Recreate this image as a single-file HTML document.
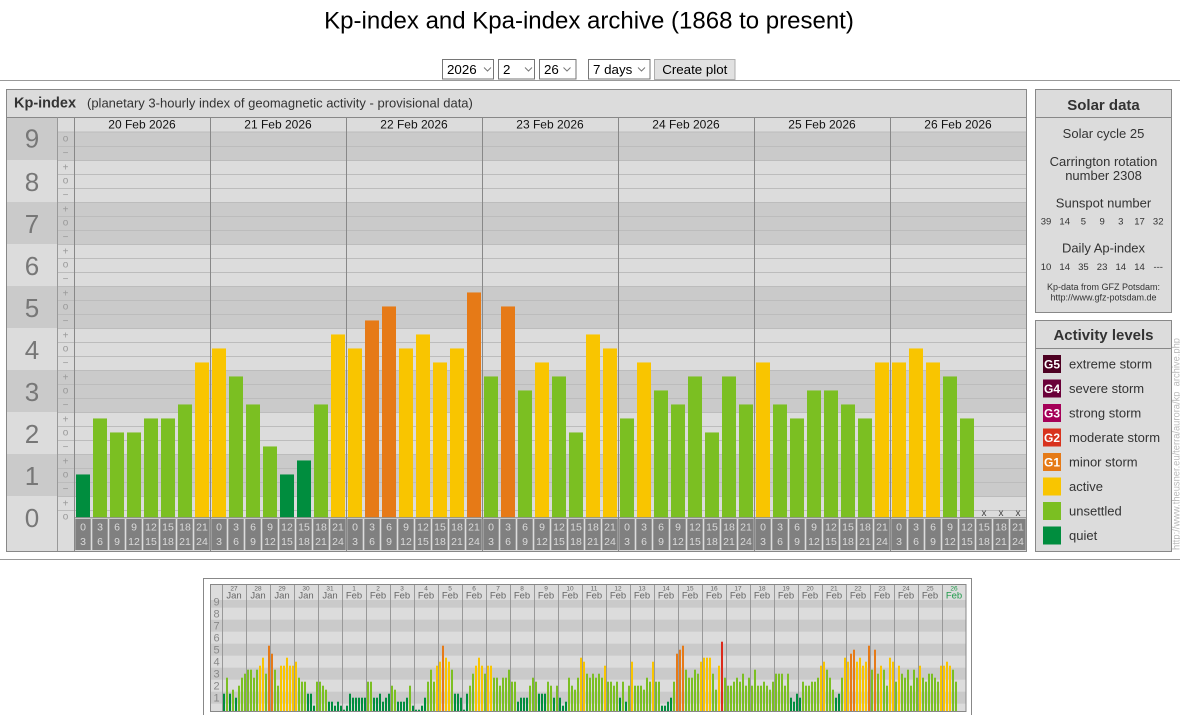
<!DOCTYPE html>
<html><head><meta charset="utf-8"><style>
html,body{margin:0;padding:0;background:#fff;}
svg{display:block;font-family:"Liberation Sans",Arial,sans-serif;}
.q{fill:#008d3e}.u{fill:#7bbf22}.a{fill:#f9c500}.g1{fill:#e67a17}.g2{fill:#dc2a1b}
</style></head><body>
<svg width="1180" height="715" viewBox="0 0 1180 715">
<rect width="1180" height="715" fill="#fff"/>
<!-- title -->
<text x="589" y="28.5" font-size="24" text-anchor="middle" fill="#000">Kp-index and Kpa-index archive (1868 to present)</text>
<!-- controls -->
<g font-size="13.33" fill="#000">
<rect x="442.5" y="59.5" width="51" height="19.5" fill="#fff" stroke="#767676"/>
<text x="447" y="74">2026</text>
<rect x="498.5" y="59.5" width="36" height="19.5" fill="#fff" stroke="#767676"/>
<text x="503" y="74">2</text>
<rect x="539.5" y="59.5" width="36.5" height="19.5" fill="#fff" stroke="#767676"/>
<text x="544" y="74">26</text>
<rect x="588.5" y="59.5" width="61.5" height="19.5" fill="#fff" stroke="#767676"/>
<text x="593" y="74">7 days</text>
<rect x="654.5" y="59.5" width="80.5" height="20" fill="#e1e1e1" stroke="#adadad"/>
<text x="694.8" y="74" text-anchor="middle">Create plot</text>
</g>
<path d="M484 67.5l3.5 3.5 3.5-3.5M525 67.5l3.5 3.5 3.5-3.5M563.5 67.5l3.5 3.5 3.5-3.5M638 67.5l3.5 3.5 3.5-3.5" stroke="#777" fill="none"/>
<line x1="0" y1="80.5" x2="1180" y2="80.5" stroke="#999"/>

<!-- main panel -->
<rect x="6.5" y="89.5" width="1020" height="462" fill="#dcdcdc"/>
<g fill="#cacaca">
<rect x="7" y="117.5" width="50.5" height="42.5"/>
<rect x="57.5" y="132" width="969" height="28"/>
<rect x="7" y="202" width="1019.5" height="42"/>
<rect x="7" y="286" width="1019.5" height="42"/>
<rect x="7" y="370" width="1019.5" height="42"/>
<rect x="7" y="454" width="1019.5" height="42"/>
</g>
<path stroke="#bcbcbc" fill="none" d="M57.5 510.5H1026M57.5 496.5H1026M57.5 482.5H1026M57.5 468.5H1026M57.5 454.5H1026M57.5 440.5H1026M57.5 426.5H1026M57.5 412.5H1026M57.5 398.5H1026M57.5 384.5H1026M57.5 370.5H1026M57.5 356.5H1026M57.5 342.5H1026M57.5 328.5H1026M57.5 314.5H1026M57.5 300.5H1026M57.5 286.5H1026M57.5 272.5H1026M57.5 258.5H1026M57.5 244.5H1026M57.5 230.5H1026M57.5 216.5H1026M57.5 202.5H1026M57.5 188.5H1026M57.5 174.5H1026M57.5 160.5H1026M57.5 146.5H1026M57.5 132H1026"/>
<!-- header -->
<line x1="6" y1="117.5" x2="1027" y2="117.5" stroke="#888"/>
<text x="14" y="107.5" font-size="14.5" font-weight="bold" fill="#333">Kp-index</text>
<text x="87" y="107.5" font-size="13" fill="#333">(planetary 3-hourly index of geomagnetic activity - provisional data)</text>
<!-- date labels -->
<g font-size="12" fill="#111" text-anchor="middle">
<text x="142" y="128.5">20 Feb 2026</text><text x="278" y="128.5">21 Feb 2026</text><text x="414" y="128.5">22 Feb 2026</text><text x="550" y="128.5">23 Feb 2026</text><text x="686" y="128.5">24 Feb 2026</text><text x="822" y="128.5">25 Feb 2026</text><text x="958" y="128.5">26 Feb 2026</text>
</g>
<!-- big numbers -->
<g font-size="26" fill="#777" text-anchor="middle">
<text x="32" y="527">0</text><text x="32" y="485">1</text><text x="32" y="443">2</text><text x="32" y="401">3</text><text x="32" y="359">4</text><text x="32" y="317">5</text><text x="32" y="275">6</text><text x="32" y="233">7</text><text x="32" y="191">8</text><text x="32" y="147.5">9</text>
</g>
<!-- marks -->
<g font-size="10" fill="#999" text-anchor="middle">
<text x="65.5" y="519.5">o</text><text x="65.5" y="506.5">+</text><text x="65.5" y="492">−</text>
<text x="65.5" y="477.5">o</text><text x="65.5" y="464.5">+</text><text x="65.5" y="450">−</text>
<text x="65.5" y="435.5">o</text><text x="65.5" y="422.5">+</text><text x="65.5" y="408">−</text>
<text x="65.5" y="393.5">o</text><text x="65.5" y="380.5">+</text><text x="65.5" y="366">−</text>
<text x="65.5" y="351.5">o</text><text x="65.5" y="338.5">+</text><text x="65.5" y="324">−</text>
<text x="65.5" y="309.5">o</text><text x="65.5" y="296.5">+</text><text x="65.5" y="282">−</text>
<text x="65.5" y="267.5">o</text><text x="65.5" y="254.5">+</text><text x="65.5" y="240">−</text>
<text x="65.5" y="225.5">o</text><text x="65.5" y="212.5">+</text><text x="65.5" y="198">−</text>
<text x="65.5" y="183.5">o</text><text x="65.5" y="170.5">+</text><text x="65.5" y="156">−</text>
<text x="65.5" y="141.5">o</text>
</g>
<!-- bars -->
<g transform="translate(76,517.3) scale(1,-14)">
<rect x="0" width="14" height="3.06" class="q"/><rect x="17" width="14" height="7.06" class="u"/><rect x="34" width="14" height="6.06" class="u"/><rect x="51" width="14" height="6.06" class="u"/><rect x="68" width="14" height="7.06" class="u"/><rect x="85" width="14" height="7.06" class="u"/><rect x="102" width="14" height="8.06" class="u"/><rect x="119" width="14" height="11.06" class="a"/>
<rect x="136" width="14" height="12.06" class="a"/><rect x="153" width="14" height="10.06" class="u"/><rect x="170" width="14" height="8.06" class="u"/><rect x="187" width="14" height="5.06" class="u"/><rect x="204" width="14" height="3.06" class="q"/><rect x="221" width="14" height="4.06" class="q"/><rect x="238" width="14" height="8.06" class="u"/><rect x="255" width="14" height="13.06" class="a"/>
<rect x="272" width="14" height="12.06" class="a"/><rect x="289" width="14" height="14.06" class="g1"/><rect x="306" width="14" height="15.06" class="g1"/><rect x="323" width="14" height="12.06" class="a"/><rect x="340" width="14" height="13.06" class="a"/><rect x="357" width="14" height="11.06" class="a"/><rect x="374" width="14" height="12.06" class="a"/><rect x="391" width="14" height="16.06" class="g1"/>
<rect x="408" width="14" height="10.06" class="u"/><rect x="425" width="14" height="15.06" class="g1"/><rect x="442" width="14" height="9.06" class="u"/><rect x="459" width="14" height="11.06" class="a"/><rect x="476" width="14" height="10.06" class="u"/><rect x="493" width="14" height="6.06" class="u"/><rect x="510" width="14" height="13.06" class="a"/><rect x="527" width="14" height="12.06" class="a"/>
<rect x="544" width="14" height="7.06" class="u"/><rect x="561" width="14" height="11.06" class="a"/><rect x="578" width="14" height="9.06" class="u"/><rect x="595" width="14" height="8.06" class="u"/><rect x="612" width="14" height="10.06" class="u"/><rect x="629" width="14" height="6.06" class="u"/><rect x="646" width="14" height="10.06" class="u"/><rect x="663" width="14" height="8.06" class="u"/>
<rect x="680" width="14" height="11.06" class="a"/><rect x="697" width="14" height="8.06" class="u"/><rect x="714" width="14" height="7.06" class="u"/><rect x="731" width="14" height="9.06" class="u"/><rect x="748" width="14" height="9.06" class="u"/><rect x="765" width="14" height="8.06" class="u"/><rect x="782" width="14" height="7.06" class="u"/><rect x="799" width="14" height="11.06" class="a"/>
<rect x="816" width="14" height="11.06" class="a"/><rect x="833" width="14" height="12.06" class="a"/><rect x="850" width="14" height="11.06" class="a"/><rect x="867" width="14" height="10.06" class="u"/><rect x="884" width="14" height="7.06" class="u"/>
</g>
<g font-size="10" fill="#444" text-anchor="middle"><text x="984" y="516">x</text><text x="1001" y="516">x</text><text x="1018" y="516">x</text></g>
<!-- x label strip -->
<rect x="74.5" y="517.8" width="951.5" height="33" fill="#dcdcdc"/>
<defs><pattern id="xb" x="74" y="0" width="17" height="715" patternUnits="userSpaceOnUse"><rect x="1.3" y="519" width="15.4" height="31" fill="#808080"/></pattern></defs>
<rect x="74" y="519" width="952" height="31" fill="url(#xb)"/>
<line x1="74" y1="517.8" x2="1026" y2="517.8" stroke="#888"/>
<g font-size="10.5" fill="#dadada" text-anchor="middle">
<text y="530.5"><tspan x="83">0</tspan><tspan x="100">3</tspan><tspan x="117">6</tspan><tspan x="134">9</tspan><tspan x="151">12</tspan><tspan x="168">15</tspan><tspan x="185">18</tspan><tspan x="202">21</tspan><tspan x="219">0</tspan><tspan x="236">3</tspan><tspan x="253">6</tspan><tspan x="270">9</tspan><tspan x="287">12</tspan><tspan x="304">15</tspan><tspan x="321">18</tspan><tspan x="338">21</tspan><tspan x="355">0</tspan><tspan x="372">3</tspan><tspan x="389">6</tspan><tspan x="406">9</tspan><tspan x="423">12</tspan><tspan x="440">15</tspan><tspan x="457">18</tspan><tspan x="474">21</tspan><tspan x="491">0</tspan><tspan x="508">3</tspan><tspan x="525">6</tspan><tspan x="542">9</tspan><tspan x="559">12</tspan><tspan x="576">15</tspan><tspan x="593">18</tspan><tspan x="610">21</tspan><tspan x="627">0</tspan><tspan x="644">3</tspan><tspan x="661">6</tspan><tspan x="678">9</tspan><tspan x="695">12</tspan><tspan x="712">15</tspan><tspan x="729">18</tspan><tspan x="746">21</tspan><tspan x="763">0</tspan><tspan x="780">3</tspan><tspan x="797">6</tspan><tspan x="814">9</tspan><tspan x="831">12</tspan><tspan x="848">15</tspan><tspan x="865">18</tspan><tspan x="882">21</tspan><tspan x="899">0</tspan><tspan x="916">3</tspan><tspan x="933">6</tspan><tspan x="950">9</tspan><tspan x="967">12</tspan><tspan x="984">15</tspan><tspan x="1001">18</tspan><tspan x="1018">21</tspan></text>
<text y="545"><tspan x="83">3</tspan><tspan x="100">6</tspan><tspan x="117">9</tspan><tspan x="134">12</tspan><tspan x="151">15</tspan><tspan x="168">18</tspan><tspan x="185">21</tspan><tspan x="202">24</tspan><tspan x="219">3</tspan><tspan x="236">6</tspan><tspan x="253">9</tspan><tspan x="270">12</tspan><tspan x="287">15</tspan><tspan x="304">18</tspan><tspan x="321">21</tspan><tspan x="338">24</tspan><tspan x="355">3</tspan><tspan x="372">6</tspan><tspan x="389">9</tspan><tspan x="406">12</tspan><tspan x="423">15</tspan><tspan x="440">18</tspan><tspan x="457">21</tspan><tspan x="474">24</tspan><tspan x="491">3</tspan><tspan x="508">6</tspan><tspan x="525">9</tspan><tspan x="542">12</tspan><tspan x="559">15</tspan><tspan x="576">18</tspan><tspan x="593">21</tspan><tspan x="610">24</tspan><tspan x="627">3</tspan><tspan x="644">6</tspan><tspan x="661">9</tspan><tspan x="678">12</tspan><tspan x="695">15</tspan><tspan x="712">18</tspan><tspan x="729">21</tspan><tspan x="746">24</tspan><tspan x="763">3</tspan><tspan x="780">6</tspan><tspan x="797">9</tspan><tspan x="814">12</tspan><tspan x="831">15</tspan><tspan x="848">18</tspan><tspan x="865">21</tspan><tspan x="882">24</tspan><tspan x="899">3</tspan><tspan x="916">6</tspan><tspan x="933">9</tspan><tspan x="950">12</tspan><tspan x="967">15</tspan><tspan x="984">18</tspan><tspan x="1001">21</tspan><tspan x="1018">24</tspan></text>
</g>
<!-- vertical lines -->
<path stroke="#999" d="M57.5 117.5V551"/>
<path stroke="#888" d="M74.5 117.5V551M210.5 117.5V551M346.5 117.5V551M482.5 117.5V551M618.5 117.5V551M754.5 117.5V551M890.5 117.5V551"/>
<rect x="6.5" y="89.5" width="1020" height="462" fill="none" stroke="#888"/>

<!-- solar data panel -->
<rect x="1035.5" y="89.5" width="136" height="223" fill="#dcdcdc" stroke="#888"/>
<line x1="1035.5" y1="117.5" x2="1171.5" y2="117.5" stroke="#888"/>
<g fill="#333" text-anchor="middle">
<text x="1103.5" y="110" font-size="15" font-weight="bold">Solar data</text>
<text x="1103.5" y="138" font-size="13">Solar cycle 25</text>
<text x="1103.5" y="166" font-size="13">Carrington rotation</text>
<text x="1103.5" y="180" font-size="13">number 2308</text>
<text x="1103.5" y="207.5" font-size="13">Sunspot number</text>
<text y="224.5" font-size="9.5"><tspan x="1046">39</tspan><tspan x="1064.7">14</tspan><tspan x="1083.4">5</tspan><tspan x="1102.1">9</tspan><tspan x="1120.8">3</tspan><tspan x="1139.5">17</tspan><tspan x="1158.2">32</tspan></text>
<text x="1103.5" y="252.5" font-size="13">Daily Ap-index</text>
<text y="270" font-size="9.5"><tspan x="1046">10</tspan><tspan x="1064.7">14</tspan><tspan x="1083.4">35</tspan><tspan x="1102.1">23</tspan><tspan x="1120.8">14</tspan><tspan x="1139.5">14</tspan><tspan x="1158.2">---</tspan></text>
<text x="1103.5" y="290" font-size="9">Kp-data from GFZ Potsdam:</text>
<text x="1103.5" y="300.5" font-size="9">http://www.gfz-potsdam.de</text>
</g>

<!-- activity levels panel -->
<rect x="1035.5" y="320.5" width="136" height="231" fill="#dcdcdc" stroke="#888"/>
<line x1="1035.5" y1="348.5" x2="1171.5" y2="348.5" stroke="#888"/>
<text x="1103.5" y="340" font-size="15" font-weight="bold" fill="#333" text-anchor="middle">Activity levels</text>
<rect x="1043" y="355" width="18" height="18" fill="#4d0022"/>
<rect x="1043" y="379.5" width="18" height="18" fill="#6a0039"/>
<rect x="1043" y="404" width="18" height="18" fill="#a50058"/>
<rect x="1043" y="428.5" width="18" height="18" fill="#d8321d"/>
<rect x="1043" y="453" width="18" height="18" fill="#e57a17"/>
<rect x="1043" y="477.5" width="18" height="18" fill="#f9c500"/>
<rect x="1043" y="502" width="18" height="18" fill="#7bbf22"/>
<rect x="1043" y="526.5" width="18" height="18" fill="#008d3e"/>
<g font-size="12" font-weight="bold" fill="#fff" text-anchor="middle">
<text x="1052" y="368.5">G5</text><text x="1052" y="393">G4</text><text x="1052" y="417.5">G3</text><text x="1052" y="442">G2</text><text x="1052" y="466.5">G1</text>
</g>
<g font-size="13" fill="#333">
<text x="1069" y="368.5">extreme storm</text><text x="1069" y="393">severe storm</text><text x="1069" y="417.5">strong storm</text><text x="1069" y="442">moderate storm</text><text x="1069" y="466.5">minor storm</text><text x="1069" y="491">active</text><text x="1069" y="515.5">unsettled</text><text x="1069" y="540">quiet</text>
</g>
<text transform="translate(1179.5,550) rotate(-90)" font-size="10" fill="#bbb" textLength="212" lengthAdjust="spacingAndGlyphs">http://www.theusner.eu/terra/aurora/kp_archive.php</text>

<line x1="0" y1="559.5" x2="1180" y2="559.5" stroke="#999"/>

<!-- mini chart -->
<rect x="203.5" y="578.5" width="768" height="145" fill="#fff" stroke="#888"/>
<rect x="210.5" y="584.5" width="755.5" height="127" fill="#dcdcdc"/>
<g fill="#cacaca">
<rect x="210.5" y="600" width="755.5" height="7.7"/>
<rect x="210.5" y="619.7" width="755.5" height="12"/>
<rect x="210.5" y="643.7" width="755.5" height="12"/>
<rect x="210.5" y="667.7" width="755.5" height="12"/>
<rect x="210.5" y="691.7" width="755.5" height="12"/>
</g>
<g font-size="11" fill="#888" text-anchor="middle">
<text x="216.5" y="605.5">9</text><text x="216.5" y="617.5">8</text><text x="216.5" y="629.5">7</text><text x="216.5" y="641.5">6</text><text x="216.5" y="653.5">5</text><text x="216.5" y="665.5">4</text><text x="216.5" y="677.5">3</text><text x="216.5" y="689.5">2</text><text x="216.5" y="701.5">1</text>
</g>
<g text-anchor="middle" fill="#666">
<text y="590.5" font-size="6.5"><tspan x="234">27</tspan><tspan x="258">28</tspan><tspan x="282">29</tspan><tspan x="306">30</tspan><tspan x="330">31</tspan><tspan x="354">1</tspan><tspan x="378">2</tspan><tspan x="402">3</tspan><tspan x="426">4</tspan><tspan x="450">5</tspan><tspan x="474">6</tspan><tspan x="498">7</tspan><tspan x="522">8</tspan><tspan x="546">9</tspan><tspan x="570">10</tspan><tspan x="594">11</tspan><tspan x="618">12</tspan><tspan x="642">13</tspan><tspan x="666">14</tspan><tspan x="690">15</tspan><tspan x="714">16</tspan><tspan x="738">17</tspan><tspan x="762">18</tspan><tspan x="786">19</tspan><tspan x="810">20</tspan><tspan x="834">21</tspan><tspan x="858">22</tspan><tspan x="882">23</tspan><tspan x="906">24</tspan><tspan x="930">25</tspan><tspan x="954" fill="#1f9a4a">26</tspan></text>
<text y="598.5" font-size="9.5"><tspan x="234">Jan</tspan><tspan x="258">Jan</tspan><tspan x="282">Jan</tspan><tspan x="306">Jan</tspan><tspan x="330">Jan</tspan><tspan x="354">Feb</tspan><tspan x="378">Feb</tspan><tspan x="402">Feb</tspan><tspan x="426">Feb</tspan><tspan x="450">Feb</tspan><tspan x="474">Feb</tspan><tspan x="498">Feb</tspan><tspan x="522">Feb</tspan><tspan x="546">Feb</tspan><tspan x="570">Feb</tspan><tspan x="594">Feb</tspan><tspan x="618">Feb</tspan><tspan x="642">Feb</tspan><tspan x="666">Feb</tspan><tspan x="690">Feb</tspan><tspan x="714">Feb</tspan><tspan x="738">Feb</tspan><tspan x="762">Feb</tspan><tspan x="786">Feb</tspan><tspan x="810">Feb</tspan><tspan x="834">Feb</tspan><tspan x="858">Feb</tspan><tspan x="882">Feb</tspan><tspan x="906">Feb</tspan><tspan x="930">Feb</tspan><tspan x="954" fill="#1f9a4a">Feb</tspan></text>
</g>
<g transform="translate(223,711.5) scale(1,-4)">
<g><rect x="0" width="2" height="4.45" class="q"/><rect x="3" width="2" height="8.45" class="u"/><rect x="6" width="2" height="4.45" class="q"/><rect x="9" width="2" height="5.45" class="u"/><rect x="12" width="2" height="3.45" class="q"/><rect x="15" width="2" height="6.45" class="u"/><rect x="18" width="2" height="8.45" class="u"/><rect x="21" width="2" height="9.45" class="u"/></g>
<g transform="translate(24,0)"><rect x="0" width="2" height="10.45" class="u"/><rect x="3" width="2" height="10.45" class="u"/><rect x="6" width="2" height="8.45" class="u"/><rect x="9" width="2" height="10.45" class="u"/><rect x="12" width="2" height="11.45" class="a"/><rect x="15" width="2" height="13.45" class="a"/><rect x="18" width="2" height="9.45" class="u"/><rect x="21" width="2" height="16.45" class="g1"/></g>
<g transform="translate(48,0)"><rect x="0" width="2" height="14.45" class="g1"/><rect x="3" width="2" height="10.45" class="u"/><rect x="6" width="2" height="6.45" class="u"/><rect x="9" width="2" height="11.45" class="a"/><rect x="12" width="2" height="11.45" class="a"/><rect x="15" width="2" height="13.45" class="a"/><rect x="18" width="2" height="11.45" class="a"/><rect x="21" width="2" height="11.45" class="a"/></g>
<g transform="translate(72,0)"><rect x="0" width="2" height="12.45" class="a"/><rect x="3" width="2" height="8.45" class="u"/><rect x="6" width="2" height="7.45" class="u"/><rect x="9" width="2" height="7.45" class="u"/><rect x="12" width="2" height="4.45" class="q"/><rect x="15" width="2" height="4.45" class="q"/><rect x="18" width="2" height="1.45" class="q"/><rect x="21" width="2" height="7.45" class="u"/></g>
<g transform="translate(96,0)"><rect x="0" width="2" height="7.45" class="u"/><rect x="3" width="2" height="6.45" class="u"/><rect x="6" width="2" height="5.45" class="u"/><rect x="9" width="2" height="2.45" class="q"/><rect x="12" width="2" height="2.45" class="q"/><rect x="15" width="2" height="1.45" class="q"/><rect x="18" width="2" height="2.45" class="q"/><rect x="21" width="2" height="1.45" class="q"/></g>
<g transform="translate(120,0)"><rect x="0" width="2" height="0.45" class="q"/><rect x="3" width="2" height="1.45" class="q"/><rect x="6" width="2" height="4.45" class="q"/><rect x="9" width="2" height="3.45" class="q"/><rect x="12" width="2" height="3.45" class="q"/><rect x="15" width="2" height="3.45" class="q"/><rect x="18" width="2" height="3.45" class="q"/><rect x="21" width="2" height="3.45" class="q"/></g>
<g transform="translate(144,0)"><rect x="0" width="2" height="7.45" class="u"/><rect x="3" width="2" height="7.45" class="u"/><rect x="6" width="2" height="3.45" class="q"/><rect x="9" width="2" height="3.45" class="q"/><rect x="12" width="2" height="4.45" class="q"/><rect x="15" width="2" height="2.45" class="q"/><rect x="18" width="2" height="3.45" class="q"/><rect x="21" width="2" height="4.45" class="q"/></g>
<g transform="translate(168,0)"><rect x="0" width="2" height="6.45" class="u"/><rect x="3" width="2" height="5.45" class="u"/><rect x="6" width="2" height="2.45" class="q"/><rect x="9" width="2" height="2.45" class="q"/><rect x="12" width="2" height="2.45" class="q"/><rect x="15" width="2" height="3.45" class="q"/><rect x="18" width="2" height="6.45" class="u"/><rect x="21" width="2" height="1.45" class="q"/></g>
<g transform="translate(192,0)"><rect x="0" width="2" height="0.45" class="q"/><rect x="3" width="2" height="0.45" class="q"/><rect x="6" width="2" height="1.45" class="q"/><rect x="9" width="2" height="3.45" class="q"/><rect x="12" width="2" height="7.45" class="u"/><rect x="15" width="2" height="10.45" class="u"/><rect x="18" width="2" height="7.45" class="u"/><rect x="21" width="2" height="11.45" class="a"/></g>
<g transform="translate(216,0)"><rect x="0" width="2" height="12.45" class="a"/><rect x="3" width="2" height="16.45" class="g1"/><rect x="6" width="2" height="13.45" class="a"/><rect x="9" width="2" height="12.45" class="a"/><rect x="12" width="2" height="10.45" class="u"/><rect x="15" width="2" height="4.45" class="q"/><rect x="18" width="2" height="4.45" class="q"/><rect x="21" width="2" height="3.45" class="q"/></g>
<g transform="translate(240,0)"><rect x="0" width="2" height="0.45" class="q"/><rect x="3" width="2" height="4.45" class="q"/><rect x="6" width="2" height="6.45" class="u"/><rect x="9" width="2" height="9.45" class="u"/><rect x="12" width="2" height="11.45" class="a"/><rect x="15" width="2" height="13.45" class="a"/><rect x="18" width="2" height="11.45" class="a"/><rect x="21" width="2" height="9.45" class="u"/></g>
<g transform="translate(264,0)"><rect x="0" width="2" height="11.45" class="a"/><rect x="3" width="2" height="11.45" class="a"/><rect x="6" width="2" height="8.45" class="u"/><rect x="9" width="2" height="8.45" class="u"/><rect x="12" width="2" height="6.45" class="u"/><rect x="15" width="2" height="8.45" class="u"/><rect x="18" width="2" height="8.45" class="u"/><rect x="21" width="2" height="10.45" class="u"/></g>
<g transform="translate(288,0)"><rect x="0" width="2" height="7.45" class="u"/><rect x="3" width="2" height="7.45" class="u"/><rect x="6" width="2" height="2.45" class="q"/><rect x="9" width="2" height="3.45" class="q"/><rect x="12" width="2" height="3.45" class="q"/><rect x="15" width="2" height="3.45" class="q"/><rect x="18" width="2" height="6.45" class="u"/><rect x="21" width="2" height="8.45" class="u"/></g>
<g transform="translate(312,0)"><rect x="0" width="2" height="7.45" class="u"/><rect x="3" width="2" height="4.45" class="q"/><rect x="6" width="2" height="4.45" class="q"/><rect x="9" width="2" height="4.45" class="q"/><rect x="12" width="2" height="7.45" class="u"/><rect x="15" width="2" height="6.45" class="u"/><rect x="18" width="2" height="3.45" class="q"/><rect x="21" width="2" height="6.45" class="u"/></g>
<g transform="translate(336,0)"><rect x="0" width="2" height="3.45" class="q"/><rect x="3" width="2" height="1.45" class="q"/><rect x="6" width="2" height="2.45" class="q"/><rect x="9" width="2" height="8.45" class="u"/><rect x="12" width="2" height="6.45" class="u"/><rect x="15" width="2" height="5.45" class="u"/><rect x="18" width="2" height="8.45" class="u"/><rect x="21" width="2" height="13.45" class="a"/></g>
<g transform="translate(360,0)"><rect x="0" width="2" height="12.45" class="a"/><rect x="3" width="2" height="9.45" class="u"/><rect x="6" width="2" height="8.45" class="u"/><rect x="9" width="2" height="9.45" class="u"/><rect x="12" width="2" height="8.45" class="u"/><rect x="15" width="2" height="9.45" class="u"/><rect x="18" width="2" height="8.45" class="u"/><rect x="21" width="2" height="11.45" class="a"/></g>
<g transform="translate(384,0)"><rect x="0" width="2" height="7.45" class="u"/><rect x="3" width="2" height="7.45" class="u"/><rect x="6" width="2" height="6.45" class="u"/><rect x="9" width="2" height="7.45" class="u"/><rect x="12" width="2" height="3.45" class="q"/><rect x="15" width="2" height="7.45" class="u"/><rect x="18" width="2" height="2.45" class="q"/><rect x="21" width="2" height="6.45" class="u"/></g>
<g transform="translate(408,0)"><rect x="0" width="2" height="12.45" class="a"/><rect x="3" width="2" height="6.45" class="u"/><rect x="6" width="2" height="6.45" class="u"/><rect x="9" width="2" height="6.45" class="u"/><rect x="12" width="2" height="5.45" class="u"/><rect x="15" width="2" height="8.45" class="u"/><rect x="18" width="2" height="7.45" class="u"/><rect x="21" width="2" height="12.45" class="a"/></g>
<g transform="translate(432,0)"><rect x="0" width="2" height="7.45" class="u"/><rect x="3" width="2" height="7.45" class="u"/><rect x="6" width="2" height="1.45" class="q"/><rect x="9" width="2" height="1.45" class="q"/><rect x="12" width="2" height="2.45" class="q"/><rect x="15" width="2" height="3.45" class="q"/><rect x="18" width="2" height="7.45" class="u"/><rect x="21" width="2" height="14.45" class="g1"/></g>
<g transform="translate(456,0)"><rect x="0" width="2" height="15.45" class="g1"/><rect x="3" width="2" height="16.45" class="g1"/><rect x="6" width="2" height="10.45" class="u"/><rect x="9" width="2" height="8.45" class="u"/><rect x="12" width="2" height="8.45" class="u"/><rect x="15" width="2" height="10.45" class="u"/><rect x="18" width="2" height="9.45" class="u"/><rect x="21" width="2" height="12.45" class="a"/></g>
<g transform="translate(480,0)"><rect x="0" width="2" height="13.45" class="a"/><rect x="3" width="2" height="13.45" class="a"/><rect x="6" width="2" height="13.45" class="a"/><rect x="9" width="2" height="9.45" class="u"/><rect x="12" width="2" height="5.45" class="u"/><rect x="15" width="2" height="11.45" class="a"/><rect x="18" width="2" height="17.45" class="g2"/><rect x="21" width="2" height="8.45" class="u"/></g>
<g transform="translate(504,0)"><rect x="0" width="2" height="6.45" class="u"/><rect x="3" width="2" height="6.45" class="u"/><rect x="6" width="2" height="7.45" class="u"/><rect x="9" width="2" height="8.45" class="u"/><rect x="12" width="2" height="7.45" class="u"/><rect x="15" width="2" height="9.45" class="u"/><rect x="18" width="2" height="6.45" class="u"/><rect x="21" width="2" height="8.45" class="u"/></g>
<g transform="translate(528,0)"><rect x="0" width="2" height="6.45" class="u"/><rect x="3" width="2" height="10.45" class="u"/><rect x="6" width="2" height="6.45" class="u"/><rect x="9" width="2" height="6.45" class="u"/><rect x="12" width="2" height="7.45" class="u"/><rect x="15" width="2" height="6.45" class="u"/><rect x="18" width="2" height="5.45" class="u"/><rect x="21" width="2" height="7.45" class="u"/></g>
<g transform="translate(552,0)"><rect x="0" width="2" height="9.45" class="u"/><rect x="3" width="2" height="9.45" class="u"/><rect x="6" width="2" height="9.45" class="u"/><rect x="9" width="2" height="6.45" class="u"/><rect x="12" width="2" height="9.45" class="u"/><rect x="15" width="2" height="3.45" class="q"/><rect x="18" width="2" height="2.45" class="q"/><rect x="21" width="2" height="4.45" class="q"/></g>
<g transform="translate(576,0)"><rect x="0" width="2" height="3.45" class="q"/><rect x="3" width="2" height="7.45" class="u"/><rect x="6" width="2" height="6.45" class="u"/><rect x="9" width="2" height="6.45" class="u"/><rect x="12" width="2" height="7.45" class="u"/><rect x="15" width="2" height="7.45" class="u"/><rect x="18" width="2" height="8.45" class="u"/><rect x="21" width="2" height="11.45" class="a"/></g>
<g transform="translate(600,0)"><rect x="0" width="2" height="12.45" class="a"/><rect x="3" width="2" height="10.45" class="u"/><rect x="6" width="2" height="8.45" class="u"/><rect x="9" width="2" height="5.45" class="u"/><rect x="12" width="2" height="3.45" class="q"/><rect x="15" width="2" height="4.45" class="q"/><rect x="18" width="2" height="8.45" class="u"/><rect x="21" width="2" height="13.45" class="a"/></g>
<g transform="translate(624,0)"><rect x="0" width="2" height="12.45" class="a"/><rect x="3" width="2" height="14.45" class="g1"/><rect x="6" width="2" height="15.45" class="g1"/><rect x="9" width="2" height="12.45" class="a"/><rect x="12" width="2" height="13.45" class="a"/><rect x="15" width="2" height="11.45" class="a"/><rect x="18" width="2" height="12.45" class="a"/><rect x="21" width="2" height="16.45" class="g1"/></g>
<g transform="translate(648,0)"><rect x="0" width="2" height="10.45" class="u"/><rect x="3" width="2" height="15.45" class="g1"/><rect x="6" width="2" height="9.45" class="u"/><rect x="9" width="2" height="11.45" class="a"/><rect x="12" width="2" height="10.45" class="u"/><rect x="15" width="2" height="6.45" class="u"/><rect x="18" width="2" height="13.45" class="a"/><rect x="21" width="2" height="12.45" class="a"/></g>
<g transform="translate(672,0)"><rect x="0" width="2" height="7.45" class="u"/><rect x="3" width="2" height="11.45" class="a"/><rect x="6" width="2" height="9.45" class="u"/><rect x="9" width="2" height="8.45" class="u"/><rect x="12" width="2" height="10.45" class="u"/><rect x="15" width="2" height="6.45" class="u"/><rect x="18" width="2" height="10.45" class="u"/><rect x="21" width="2" height="8.45" class="u"/></g>
<g transform="translate(696,0)"><rect x="0" width="2" height="11.45" class="a"/><rect x="3" width="2" height="8.45" class="u"/><rect x="6" width="2" height="7.45" class="u"/><rect x="9" width="2" height="9.45" class="u"/><rect x="12" width="2" height="9.45" class="u"/><rect x="15" width="2" height="8.45" class="u"/><rect x="18" width="2" height="7.45" class="u"/><rect x="21" width="2" height="11.45" class="a"/></g>
<g transform="translate(720,0)"><rect x="0" width="2" height="11.45" class="a"/><rect x="3" width="2" height="12.45" class="a"/><rect x="6" width="2" height="11.45" class="a"/><rect x="9" width="2" height="10.45" class="u"/><rect x="12" width="2" height="7.45" class="u"/></g>
</g>
<path stroke="#999" d="M222.5 584.5V711.5M246.5 584.5V711.5M270.5 584.5V711.5M294.5 584.5V711.5M318.5 584.5V711.5M342.5 584.5V711.5M366.5 584.5V711.5M390.5 584.5V711.5M414.5 584.5V711.5M438.5 584.5V711.5M462.5 584.5V711.5M486.5 584.5V711.5M510.5 584.5V711.5M534.5 584.5V711.5M558.5 584.5V711.5M582.5 584.5V711.5M606.5 584.5V711.5M630.5 584.5V711.5M654.5 584.5V711.5M678.5 584.5V711.5M702.5 584.5V711.5M726.5 584.5V711.5M750.5 584.5V711.5M774.5 584.5V711.5M798.5 584.5V711.5M822.5 584.5V711.5M846.5 584.5V711.5M870.5 584.5V711.5M894.5 584.5V711.5M918.5 584.5V711.5M942.5 584.5V711.5"/>
<rect x="210.5" y="584.5" width="755.5" height="127" fill="none" stroke="#888"/>
</svg>
</body></html>
